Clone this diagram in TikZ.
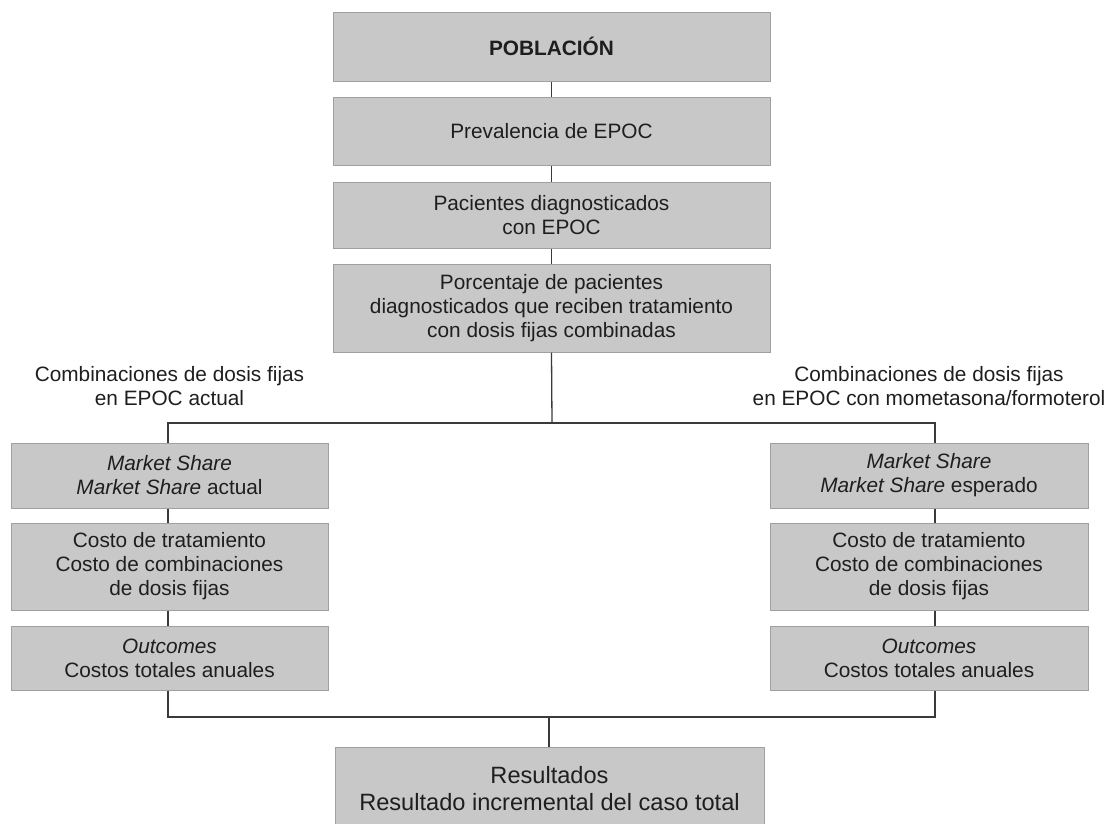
\documentclass[tikz,border=0pt]{standalone}
\usepackage{fontspec}
\setmainfont{Liberation Sans}
\definecolor{boxfill}{HTML}{C8C8C8}
\definecolor{boxline}{HTML}{A0A0A0}
\definecolor{connline}{HTML}{3A3A3A}
\definecolor{txt}{HTML}{1E1E1E}
\begin{document}
\begin{tikzpicture}[x=1pt,y=-1pt,
  box/.style={draw=boxline, fill=boxfill, line width=1pt, inner sep=0pt, align=center,
    text=txt, font=\fontsize{20.8}{24}\selectfont},
  conn/.style={draw=connline, line width=1.3pt},
  lbl/.style={align=center, text=txt, inner sep=0pt, font=\fontsize{20.8}{23.5}\selectfont}]
\useasboundingbox (0,0) rectangle (1109,823);
\begin{scope}
\clip (0,0) rectangle (1109,823);
% central column
\node[box, minimum width=437pt, minimum height=69pt] (pob) at (551.5,46.5) {\bfseries POBLACIÓN};
\node[box, minimum width=437pt, minimum height=68pt] (prev) at (551.5,131) {Prevalencia de EPOC};
\node[box, minimum width=437pt, minimum height=66pt] (pac) at (551.5,215) {Pacientes diagnosticados\\con EPOC};
\node[box, minimum width=437pt, minimum height=88pt] (porc) at (551.5,308) {Porcentaje de pacientes\\diagnosticados que reciben tratamiento\\con dosis fijas combinadas};
% labels
\node[lbl] (ll) at (169.5,386) {Combinaciones de dosis fijas\\en EPOC actual};
\node[lbl] (lr) at (929,386) {Combinaciones de dosis fijas\\en EPOC con mometasona/formoterol};
% left column
\node[box, minimum width=317pt, minimum height=65pt] (lms) at (169.5,475.5) {\textit{Market Share}\\\textit{Market Share} actual};
\node[box, minimum width=317pt, minimum height=87pt] (lcost) at (169.5,566.5) {Costo de tratamiento\\Costo de combinaciones\\de dosis fijas};
\node[box, minimum width=317pt, minimum height=64pt] (lout) at (169.5,658) {\textit{Outcomes}\\Costos totales anuales};
% right column
\node[box, minimum width=318pt, minimum height=65pt] (rms) at (929,475.5) {\textit{Market Share}\\\textit{Market Share} esperado};
\node[box, minimum width=318pt, minimum height=87pt] (rcost) at (929,566.5) {Costo de tratamiento\\Costo de combinaciones\\de dosis fijas};
\node[box, minimum width=318pt, minimum height=64pt] (rout) at (929,658) {\textit{Outcomes}\\Costos totales anuales};
% result
\node[box, minimum width=429pt, minimum height=84pt, font=\fontsize{23.6}{27}\selectfont] (res) at (549.5,789) {Resultados\\Resultado incremental del caso total};
% junction coordinates
\coordinate (jt) at (552,423);
\coordinate (jl) at (168,423);
\coordinate (jr) at (935,423);
\coordinate (bl) at (168,717);
\coordinate (br) at (935,717);
\coordinate (bm) at (549,717);
% connectors
\draw[conn] (pob) -- (prev);
\draw[conn] (prev) -- (pac);
\draw[conn] (pac) -- (porc);
\draw[conn] (porc.south) -- (jt);
\draw[conn] (lms.north -| jl) -- (jl) -- (jr) -- (rms.north -| jr);
\draw[conn] (lms.south -| jl) -- (lcost.north -| jl);
\draw[conn] (lcost.south -| jl) -- (lout.north -| jl);
\draw[conn] (rms.south -| jr) -- (rcost.north -| jr);
\draw[conn] (rcost.south -| jr) -- (rout.north -| jr);
\draw[conn] (lout.south -| bl) -- (bl) -- (br) -- (rout.south -| br);
\draw[conn] (bm) -- (res.north -| bm);
\end{scope}
\end{tikzpicture}
\end{document}
